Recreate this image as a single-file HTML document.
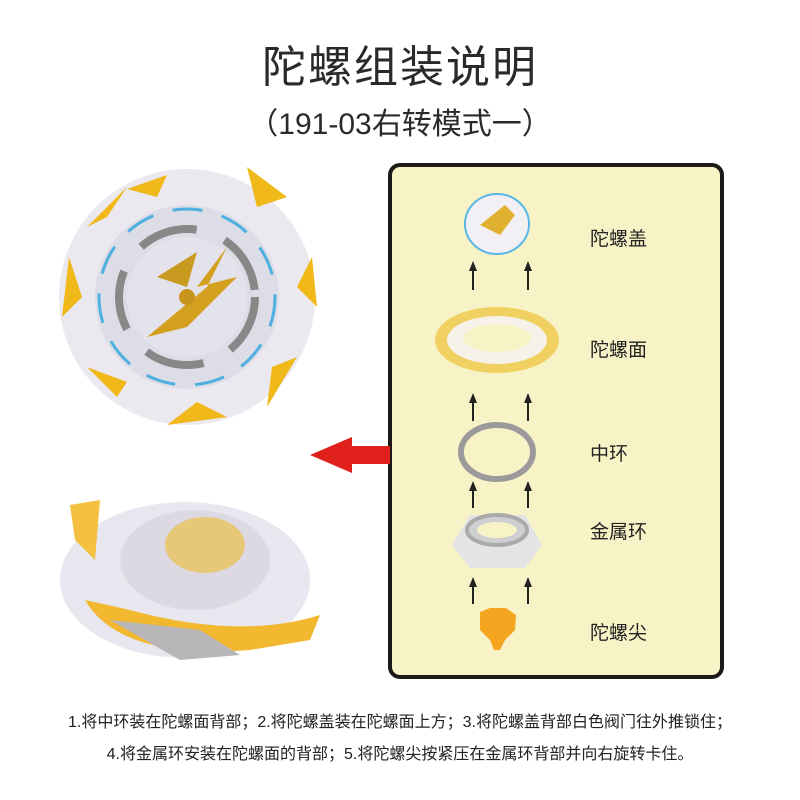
<!DOCTYPE html>
<html><head><meta charset="utf-8">
<style>
body{margin:0;width:800px;height:800px;background:#fff;position:relative;overflow:hidden;font-family:"Liberation Sans","Noto Sans CJK SC",sans-serif;}
.t{position:absolute;left:0;width:800px;text-align:center;color:#2a2a2a;}
.box{position:absolute;left:388px;top:163px;width:328px;height:508px;border:4px solid #1e1a17;border-radius:12px;background:#f8f3c6;}
.lab{position:absolute;left:590px;font-size:19px;color:#222;}
</style></head><body>
<div class="t" style="top:31px;font-size:44px;letter-spacing:2px;">陀螺组装说明</div>
<div class="t" style="top:99px;font-size:30px;">（191-03右转模式一）</div>
<div class="box"></div>
<svg width="800" height="800" style="position:absolute;left:0;top:0">
<defs>
<marker id="ah" markerUnits="userSpaceOnUse" markerWidth="10" markerHeight="10" refX="5" refY="5" orient="auto"><path d="M0,1 L10,5 L0,9 z" fill="#222"/></marker>
</defs>
<polygon points="310,455 352,437 352,446 390,446 390,464 352,464 352,473" fill="#e0201b"/>
<g transform="translate(187,297)">
<circle r="128" fill="#ece8f0"/>
<g fill="#f0b818">
<polygon points="-60,-108 -20,-122 -30,-100"/><polygon points="60,-130 100,-100 70,-90"/>
<polygon points="125,-40 130,10 110,-10"/><polygon points="110,60 80,110 85,70"/>
<polygon points="40,120 -20,128 10,105"/><polygon points="-70,100 -100,70 -60,85"/>
<polygon points="-125,20 -118,-40 -105,0"/><polygon points="-100,-70 -60,-110 -80,-80"/>
</g>
<circle r="92" fill="#dcdde6"/>
<circle r="88" fill="none" stroke="#4fb0e0" stroke-width="3" stroke-dasharray="30 20"/>
<circle r="68" fill="none" stroke="#888" stroke-width="8" stroke-dasharray="60 30"/>
<circle r="60" fill="#e4e2ea"/>
<path d="M-40,40 L20,-10 L40,-50 L10,-10 L50,-20 L0,30 Z" fill="#d4a020"/>
<path d="M-30,-20 L10,-45 L0,-10 Z" fill="#c89a20"/>
<circle r="8" fill="#c8951c"/>
</g>
<g>
<ellipse cx="185" cy="580" rx="125" ry="78" fill="#e8e6ee"/>
<ellipse cx="195" cy="560" rx="75" ry="50" fill="#ddd9e2"/>
<ellipse cx="205" cy="545" rx="40" ry="28" fill="#e6c878"/>
<path d="M85,600 Q120,660 250,650 L310,640 L320,615 Q240,640 130,610 Z" fill="#f2b830"/>
<path d="M70,505 L100,500 L95,560 L75,540 Z" fill="#f4c040"/>
<path d="M110,620 L180,660 L240,655 L200,630 Z" fill="#b8b6b8"/>
</g>
<ellipse cx="497" cy="224" rx="32" ry="30" fill="#f2f0f4" stroke="#5ab8e6" stroke-width="2"/>
<path d="M480,225 L505,205 L515,215 L500,235 Z" fill="#e0b030"/>
<ellipse cx="497" cy="340" rx="62" ry="33" fill="#f0d060"/>
<ellipse cx="497" cy="340" rx="50" ry="24" fill="#f6f2ea"/>
<ellipse cx="497" cy="338" rx="34" ry="14" fill="#f8f3c6"/>
<ellipse cx="497" cy="452" rx="36" ry="27" fill="none" stroke="#9a9a9a" stroke-width="6"/>
<path d="M452,545 L470,515 L525,515 L542,545 L525,568 L470,568 Z" fill="#e4e4e6"/>
<ellipse cx="497" cy="530" rx="30" ry="15" fill="#cfcfd2" stroke="#aaa" stroke-width="4"/>
<ellipse cx="497" cy="530" rx="20" ry="8" fill="#f8f3c6"/>
<path d="M480,612 L490,608 L506,608 L516,615 L515,630 L505,640 L500,650 L494,650 L490,640 L480,630 Z" fill="#f5a620"/>
<g stroke="#222" stroke-width="2" marker-end="url(#ah)">
<line x1="473" y1="290" x2="473" y2="266"/><line x1="528" y1="290" x2="528" y2="266"/>
<line x1="473" y1="421" x2="473" y2="398"/><line x1="528" y1="421" x2="528" y2="398"/>
<line x1="473" y1="508" x2="473" y2="486"/><line x1="528" y1="508" x2="528" y2="486"/>
<line x1="473" y1="604" x2="473" y2="582"/><line x1="528" y1="604" x2="528" y2="582"/>
</g>
</svg>
<div class="lab" style="top:224px">陀螺盖</div>
<div class="lab" style="top:335px">陀螺面</div>
<div class="lab" style="top:439px">中环</div>
<div class="lab" style="top:517px">金属环</div>
<div class="lab" style="top:618px">陀螺尖</div>
<div class="t" style="top:708px;font-size:16px;color:#222;">1.将中环装在陀螺面背部；2.将陀螺盖装在陀螺面上方；3.将陀螺盖背部白色阀门往外推锁住；</div>
<div class="t" style="top:740px;font-size:16px;color:#222;">4.将金属环安装在陀螺面的背部；5.将陀螺尖按紧压在金属环背部并向右旋转卡住。</div>
</body></html>
